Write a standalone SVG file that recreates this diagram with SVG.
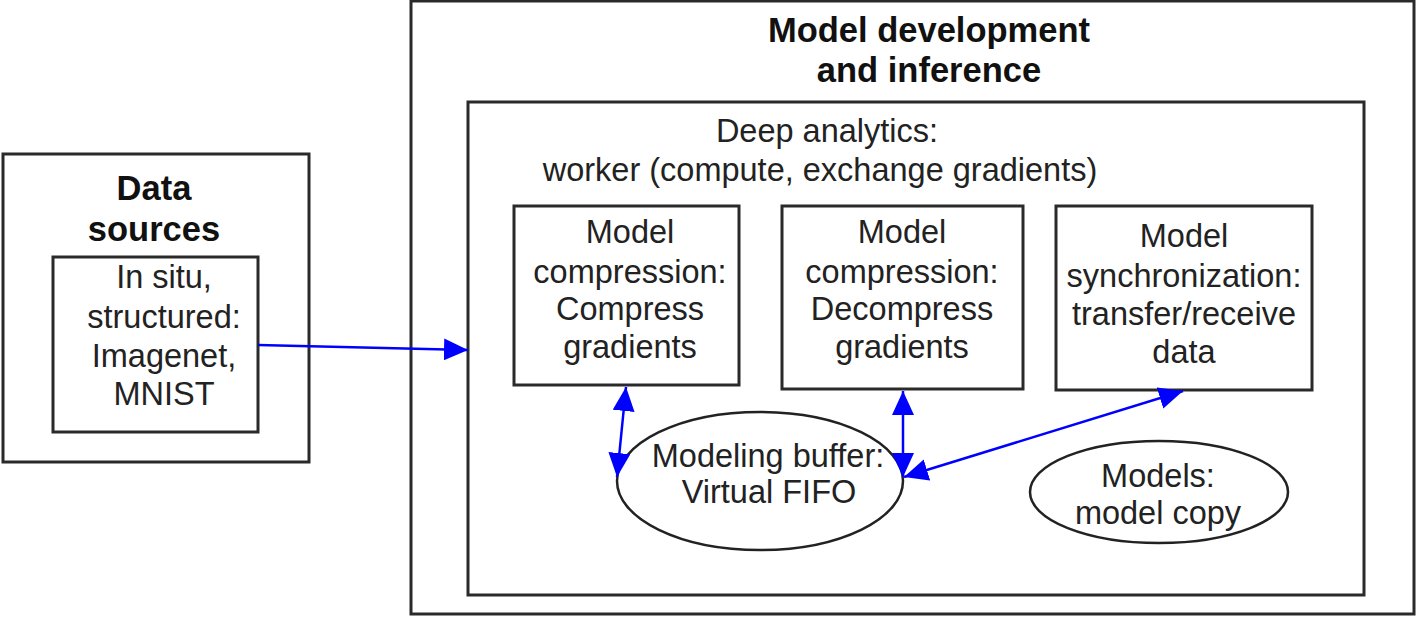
<svg xmlns="http://www.w3.org/2000/svg" width="1417" height="617" viewBox="0 0 1417 617">
<style>
.box{fill:#fff;stroke:#2a2a2a;stroke-width:3}
.ell{fill:#fff;stroke:#222;stroke-width:2.5}
text{font-family:"Liberation Sans",Arial,sans-serif;font-size:32.5px;fill:#222;text-anchor:middle}
.b{font-weight:bold;font-size:34.5px;fill:#111}
.con{stroke:#0000ff;stroke-width:2.5;fill:none}
</style>
<defs>
<marker id="a" viewBox="0 0 24 22" refX="24" refY="11" markerWidth="24" markerHeight="22" markerUnits="userSpaceOnUse" orient="auto-start-reverse">
<path d="M0,0 L24,11 L0,22 z" fill="#0000ff"/>
</marker>
</defs>
<g id="data-sources">
<rect class="box" x="3" y="154" width="306" height="308"/>
<text class="b" x="154" y="200">Data</text>
<text class="b" x="154" y="241">sources</text>
</g>
<g id="in-situ">
<rect class="box" x="53" y="257" width="205" height="175"/>
<text x="164" y="288">In situ,</text>
<text x="164" y="328">structured:</text>
<text x="164" y="367">Imagenet,</text>
<text x="164" y="405">MNIST</text>
</g>
<g id="model-dev">
<rect class="box" x="411" y="1" width="1003" height="613"/>
<text class="b" x="929" y="42">Model development</text>
<text class="b" x="929" y="82">and inference</text>
</g>
<g id="deep-analytics">
<rect class="box" x="468" y="102" width="896" height="493"/>
<text x="827" y="142">Deep analytics:</text>
<text x="820" y="181">worker (compute, exchange gradients)</text>
</g>
<g id="compress">
<rect class="box" x="514" y="206" width="225" height="179"/>
<text x="630" y="243">Model</text>
<text x="630" y="283">compression:</text>
<text x="630" y="320">Compress</text>
<text x="630" y="358">gradients</text>
</g>
<g id="decompress">
<rect class="box" x="782" y="206" width="241" height="183"/>
<text x="902" y="243">Model</text>
<text x="902" y="283">compression:</text>
<text x="902" y="320">Decompress</text>
<text x="902" y="358">gradients</text>
</g>
<g id="sync">
<rect class="box" x="1056" y="206" width="256" height="184"/>
<text x="1184" y="247">Model</text>
<text x="1184" y="287">synchronization:</text>
<text x="1184" y="325">transfer/receive</text>
<text x="1184" y="363">data</text>
</g>
<g id="buffer">
<ellipse class="ell" cx="760" cy="481" rx="143" ry="69"/>
<text x="768" y="467">Modeling buffer:</text>
<text x="769" y="503">Virtual FIFO</text>
</g>
<g id="models">
<ellipse class="ell" cx="1159" cy="492" rx="129" ry="51"/>
<text x="1158" y="487">Models:</text>
<text x="1158" y="524">model copy</text>
</g>
<g id="connectors">
<line class="con" x1="258" y1="345" x2="468" y2="350" marker-end="url(#a)"/>
<line class="con" x1="626" y1="387" x2="617" y2="477" marker-start="url(#a)" marker-end="url(#a)"/>
<line class="con" x1="903" y1="391" x2="903" y2="477" marker-start="url(#a)" marker-end="url(#a)"/>
<line class="con" x1="1183" y1="391" x2="904" y2="477" marker-start="url(#a)" marker-end="url(#a)"/>
</g>
</svg>
